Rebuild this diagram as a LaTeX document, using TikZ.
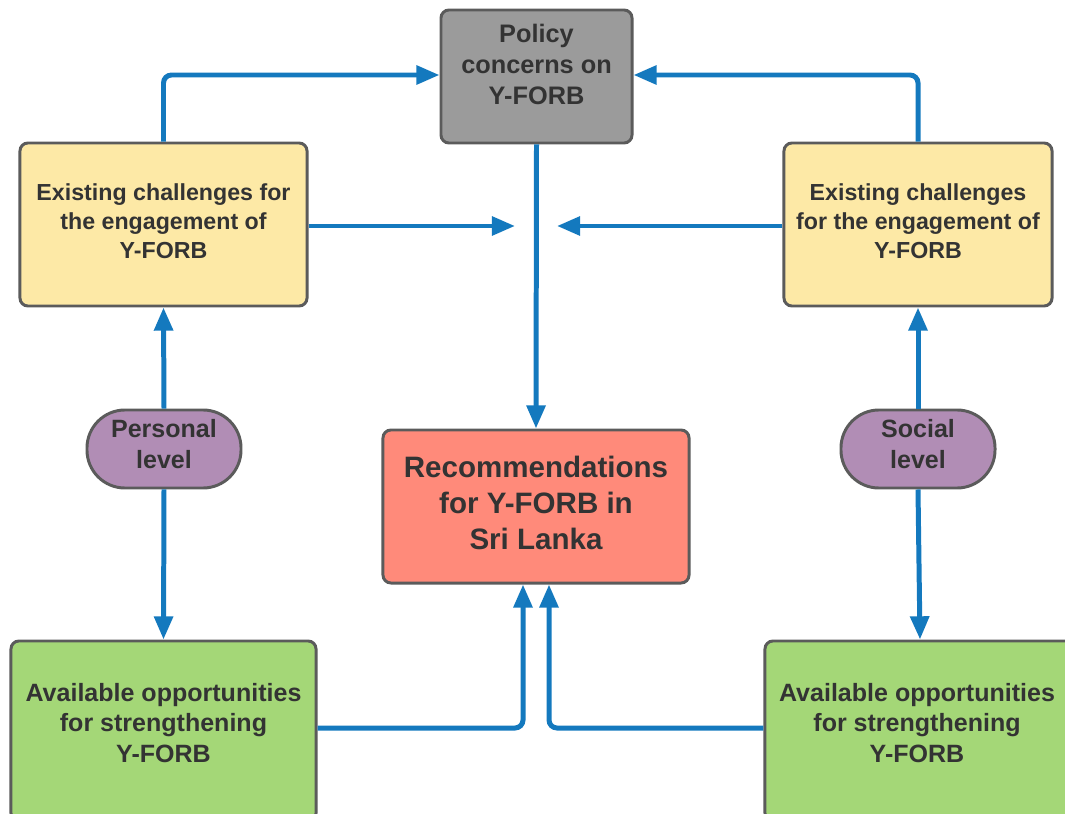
\documentclass[tikz,border=0pt]{standalone}
\usepackage{fontspec}
\setmainfont{Liberation Sans}
\usetikzlibrary{arrows.meta,positioning}
\definecolor{txt}{HTML}{333333}
\definecolor{bord}{HTML}{5B5B5B}
\definecolor{cgray}{HTML}{9B9B9B}
\definecolor{cyellow}{HTML}{FDE9A6}
\definecolor{cpurple}{HTML}{B18DB5}
\definecolor{cred}{HTML}{FF8A7A}
\definecolor{cgreen}{HTML}{A4D777}
\definecolor{cblue}{HTML}{1479BE}
\tikzset{
  box/.style={draw=bord, line width=2.1pt, rounded corners=0.2cm, inner sep=0pt},
  lbl/.style={text=txt, align=center, font=\bfseries},
  pill/.style={box, fill=cpurple, rounded corners=0.95cm, minimum width=3.85cm, minimum height=1.95cm},
  pilltext/.style={lbl, font=\fontsize{17.8}{22}\selectfont\bfseries},
  ytext/.style={lbl, font=\fontsize{16.5}{20.5}\selectfont\bfseries},
  gtext/.style={lbl, font=\fontsize{17.8}{21.5}\selectfont\bfseries},
  conn/.style={draw=cblue, line width=3.55pt, rounded corners=0.2cm,
     -{Triangle[length=0.58cm,width=0.46cm]}}
}
\begin{document}
\begin{tikzpicture}[x=0.025cm,y=-0.025cm]
\useasboundingbox (0,0) rectangle (1065,814);
\clip (0,0) rectangle (1065,814);
% boxes
\node[box, fill=cgray, minimum width=4.775cm, minimum height=3.325cm] (pol) at (536.5,76.5) {};
\node[lbl, font=\fontsize{18}{22}\selectfont\bfseries] (polt) at (536.5,64.5) {Policy\\concerns on\\Y-FORB};
\node[box, fill=cyellow, minimum width=7.175cm, minimum height=4.075cm] (ly) at (163.5,224.5) {};
\node[ytext] (lyt) at (163.5,221) {Existing challenges for\\the engagement of\\Y-FORB};
\node[box, fill=cyellow, minimum width=6.7cm, minimum height=4.075cm] (ry) at (918,224.5) {};
\node[ytext] (ryt) at (918,221) {Existing challenges\\for the engagement of\\Y-FORB};
\node[pill] (pp) at (164,449) {};
\node[pilltext] (ppt) at (164,444) {Personal\\level};
\node[pill] (sp) at (918,449) {};
\node[pilltext] (spt) at (918,444) {Social\\level};
\node[box, fill=cred, minimum width=7.65cm, minimum height=3.825cm] (rec) at (536,506.5) {};
\node[lbl, font=\fontsize{21}{25.5}\selectfont\bfseries] (rect) at (536,503) {Recommendations\\for Y-FORB in\\Sri Lanka};
\node[box, fill=cgreen, minimum width=7.625cm, minimum height=4.5cm] (lg) at (163.5,731) {};
\node[gtext] (lgt) at (163.5,723) {Available opportunities\\for strengthening\\Y-FORB};
\node[box, fill=cgreen, minimum width=7.75cm, minimum height=4.5cm] (rg) at (920,731) {};
\node[gtext] (rgt) at (917,723) {Available opportunities\\for strengthening\\Y-FORB};
% free ends
\coordinate (cl) at (515,226);
\coordinate (cr) at (557,226);
\coordinate (jl) at (523,728);
\coordinate (jr) at (549,728);
% connectors
\draw[conn] (ly.north) |- (pol.west |- 0,75);
\draw[conn] (ry.north) |- (pol.east |- 0,75);
\draw[conn] (ly.east |- cl) -- (cl);
\draw[conn] (ry.west |- cr) -- (cr);
\draw[conn] (pol.south) -- (rec.north);
\draw[conn] (pp.north) -- (ly.south);
\draw[conn] (pp.south) -- (lg.north);
\draw[conn] (sp.north) -- (ry.south);
\draw[conn] (sp.south) -- (rg.north);
\draw[conn] (lg.east |- jl) -| (jl |- rec.south);
\draw[conn] (rg.west |- jr) -| (jr |- rec.south);
\end{tikzpicture}
\end{document}
